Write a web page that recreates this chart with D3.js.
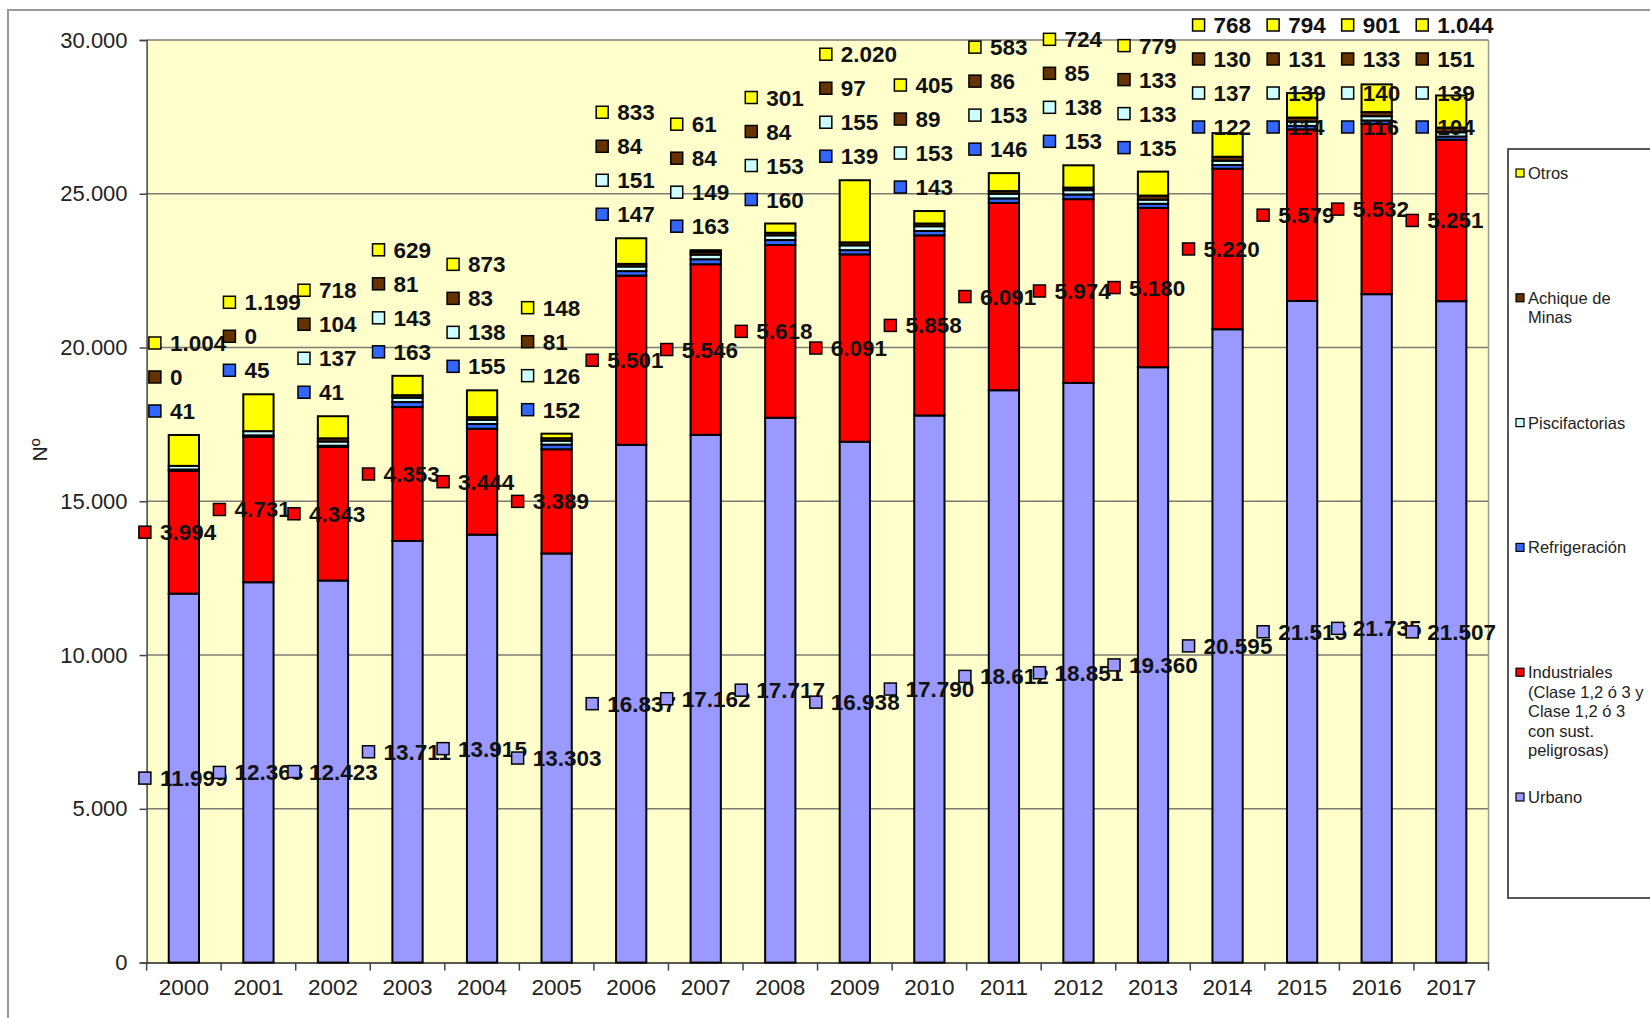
<!DOCTYPE html>
<html>
<head>
<meta charset="utf-8">
<script src="https://cdn.jsdelivr.net/npm/d3@7"></script>
<style>
  body { margin: 0; background: #fff; }
  svg { display: block; font-family: "Liberation Sans", Arial, sans-serif; }
</style>
</head>
<body>
<div class="chart"></div>
<script>
// datos por año (Nº de autorizaciones de vertido)
var years = ["2000","2001","2002","2003","2004","2005","2006","2007","2008",
             "2009","2010","2011","2012","2013","2014","2015","2016","2017"];
var urbano = [11999,12368,12423,13711,13915,13303,16837,17162,17717,16938,17790,18612,18851,19360,20595,21515,21735,21507];
var industriales = [3994,4731,4343,4353,3444,3389,5501,5546,5618,6091,5858,6091,5974,5180,5220,5579,5532,5251];
var refrigeracion = [41,45,41,163,155,152,147,163,160,139,143,146,153,135,122,114,116,104];
var piscifactorias = [118,137,137,143,138,126,151,149,153,155,153,153,138,133,137,139,140,139];
var achique = [0,0,104,81,83,81,84,84,84,97,89,86,85,133,130,131,133,151];
var otros = [1004,1199,718,629,873,148,833,61,301,2020,405,583,724,779,768,794,901,1044];
// years whose piscifactorias label is not shown in the original
var piscifSinEtiqueta = ["2000","2001"];
var yTicks = [0,5000,10000,15000,20000,25000,30000];

var series = [
  {key: "urbano", values: urbano, color: "#9999FF", legend: ["Urbano"]},
  {key: "industriales", values: industriales, color: "#FF0000",
   legend: ["Industriales", "(Clase 1,2 ó 3 y", "Clase 1,2 ó 3", "con sust.", "peligrosas)"]},
  {key: "refrigeracion", values: refrigeracion, color: "#3366FF", legend: ["Refrigeración"]},
  {key: "piscifactorias", values: piscifactorias, color: "#CCFFFF", legend: ["Piscifactorias"]},
  {key: "achique", values: achique, color: "#663300", legend: ["Achique de", "Minas"]},
  {key: "otros", values: otros, color: "#FFFF00", legend: ["Otros"]}
];

var W = 1650, H = 1018;
var plotL = 146.6, plotR = 1488.5, plotT = 40, plotB = 962.6;

var es = d3.formatLocale({decimal: ",", thousands: ".", grouping: [3], currency: ["", " €"]});
var fmt = es.format(",d");

var table = years.map(function(y, i){
  var row = {year: y};
  series.forEach(function(s){ row[s.key] = s.values[i]; });
  return row;
});
var stacked = d3.stack().keys(series.map(function(s){ return s.key; }))(table);

var svg = d3.select(".chart").append("svg")
  .attr("width", W).attr("height", H);

// chart area frame
svg.append("rect").attr("x", 8).attr("y", 10).attr("width", 1700).attr("height", 1100)
  .attr("fill", "#fff").attr("stroke", "#9a9a9a").attr("stroke-width", 2);

var x = d3.scaleBand().domain(years).range([plotL, plotR]).paddingInner(0.594).paddingOuter(0.297);
var xCat = d3.scaleBand().domain(years).range([plotL, plotR]).padding(0);
var y = d3.scaleLinear().domain([0, 30000]).range([plotB, plotT]);

// plot area
svg.append("rect").attr("x", plotL).attr("y", plotT).attr("width", plotR - plotL).attr("height", plotB - plotT)
  .attr("fill", "#FFFFCC");

svg.append("g").selectAll("line").data(yTicks.slice(1)).enter().append("line")
  .attr("x1", plotL).attr("x2", plotR)
  .attr("y1", function(d){ return y(d); }).attr("y2", function(d){ return y(d); })
  .attr("stroke", "#7c7c74").attr("stroke-width", 1.5);

svg.append("line").attr("x1", plotR).attr("x2", plotR).attr("y1", plotT).attr("y2", plotB)
  .attr("stroke", "#9a9a9a").attr("stroke-width", 1.5);

// y axis
var yAxis = svg.append("g").attr("transform", "translate(" + plotL + ",0)")
  .call(d3.axisLeft(y).tickValues(yTicks).tickFormat(fmt).tickSize(7).tickPadding(12));
yAxis.select(".domain").attr("stroke", "#444").attr("stroke-width", 1.5);
yAxis.selectAll(".tick line").attr("stroke", "#444").attr("stroke-width", 1.5);
yAxis.selectAll("text").attr("font-size", 22).attr("fill", "#222")
  .attr("font-family", "Liberation Sans, Arial, sans-serif");

svg.append("text").attr("transform", "translate(47,450) rotate(-90)")
  .attr("text-anchor", "middle").attr("font-size", 21).attr("fill", "#222").text("Nº");

// x axis
var xAxis = svg.append("g").attr("transform", "translate(0," + plotB + ")")
  .call(d3.axisBottom(xCat).tickSize(0).tickPadding(16));
xAxis.select(".domain").attr("stroke", "#222").attr("stroke-width", 1.5);
xAxis.selectAll("text").attr("font-size", 22.5).attr("fill", "#222")
  .attr("font-family", "Liberation Sans, Arial, sans-serif");
svg.append("g").selectAll("line").data(years.concat(["end"])).enter().append("line")
  .attr("x1", function(d){ return d === "end" ? plotR : xCat(d); })
  .attr("x2", function(d){ return d === "end" ? plotR : xCat(d); })
  .attr("y1", plotB).attr("y2", plotB + 8)
  .attr("stroke", "#444").attr("stroke-width", 1.5);

// bars
svg.append("g").selectAll("g").data(stacked).enter().append("g")
  .attr("fill", function(d, i){ return series[i].color; })
  .selectAll("rect").data(function(d){ return d; }).enter().append("rect")
    .attr("x", function(d){ return x(d.data.year); })
    .attr("width", x.bandwidth())
    .attr("y", function(d){ return y(d[1]); })
    .attr("height", function(d){ return y(d[0]) - y(d[1]); })
    .attr("stroke", "#000").attr("stroke-width", 2);

// data labels
var labels = [];
years.forEach(function(yr, i){
  var cx = xCat(yr) + xCat.bandwidth() / 2;
  // big segments: centred on the segment, left of the bar
  [0, 1].forEach(function(k){
    var seg = stacked[k][i];
    labels.push({x: cx - 45, y: y((seg[0] + seg[1]) / 2), v: series[k].values[i], color: series[k].color});
  });
  // small segments: piled above the bar
  var barTop = y(stacked[5][i][1]);
  var small = [];
  [2, 3, 4, 5].forEach(function(k){
    if (k === 3 && piscifSinEtiqueta.indexOf(yr) >= 0) return;
    small.push(k);
  });
  var ys = small.map(function(k, j){ return barTop - 24 - j * 34; });
  var shift = Math.max(0, 25 - ys[ys.length - 1]);
  small.forEach(function(k, j){
    labels.push({x: cx - 35, y: ys[j] + shift, v: series[k].values[i], color: series[k].color});
  });
});

var lab = svg.append("g").selectAll("g").data(labels).enter().append("g")
  .attr("transform", function(d){ return "translate(" + d.x + "," + d.y + ")"; });
lab.append("rect").attr("x", 0).attr("y", -6).attr("width", 12).attr("height", 12)
  .attr("fill", function(d){ return d.color; }).attr("stroke", "#000").attr("stroke-width", 1.5);
lab.append("text").attr("x", 21).attr("y", 8)
  .attr("font-size", 22.5).attr("font-weight", "bold").attr("fill", "#111")
  .text(function(d){ return fmt(d.v); });

// legend
svg.append("rect").attr("x", 1508).attr("y", 149).attr("width", 200).attr("height", 749)
  .attr("fill", "#fff").attr("stroke", "#222").attr("stroke-width", 1.5);
var leg = svg.append("g").selectAll("g").data(series.slice().reverse()).enter().append("g")
  .attr("transform", function(d, i){ return "translate(1516," + (173 + i * 124.8) + ")"; });
leg.append("rect").attr("x", 0).attr("y", -4).attr("width", 8).attr("height", 8)
  .attr("fill", function(d){ return d.color; }).attr("stroke", "#000").attr("stroke-width", 1.2);
leg.append("text").attr("x", 12).attr("y", 6).attr("font-size", 16.5).attr("fill", "#222")
  .selectAll("tspan").data(function(d){ return d.legend; }).enter().append("tspan")
    .attr("x", 12)
    .attr("dy", function(d, i){ return i === 0 ? 0 : 19.5; })
    .text(function(d){ return d; });
</script>
</body>
</html>
